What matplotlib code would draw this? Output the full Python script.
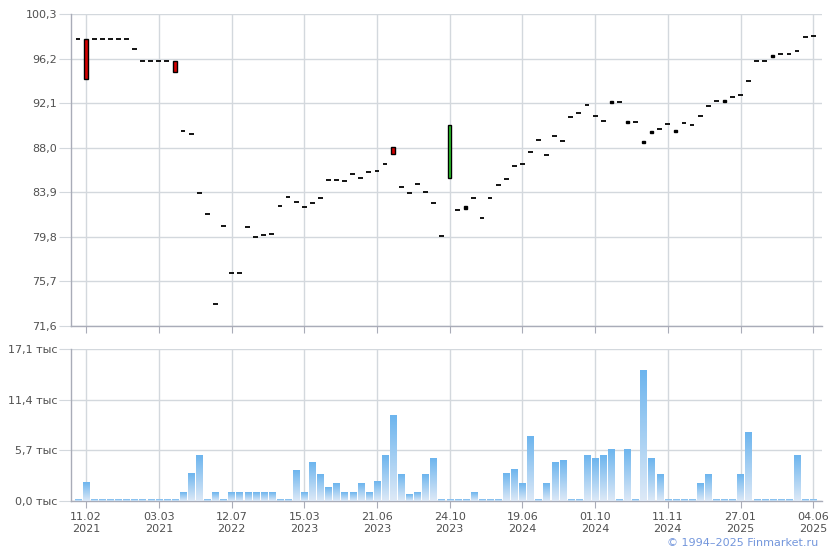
import numpy as np
import matplotlib
matplotlib.use("Agg")
from matplotlib import pyplot as plt
from matplotlib.colors import LinearSegmentedColormap

# price per session (open / close), dashes have open == close
opens = [98.0, 98.0, 98.0, 98.0, 98.0, 98.0, 98.0, 97.05, 96.0, 96.0,
         96.0, 96.0, 96.0, 89.5, 89.3, 83.8, 81.9, 73.6, 80.8, 76.5,
         76.5, 80.7, 79.8, 80.0, 80.1, 82.6, 83.5, 83.0, 82.5, 82.9,
         83.4, 85.0, 85.0, 84.9, 85.6, 85.2, 85.8, 85.9, 86.5, 88.1,
         84.35, 83.8, 84.7, 83.9, 82.9, 79.85, 85.24, 82.24, 82.6, 83.35,
         81.5, 83.35, 84.54, 85.09, 86.29, 86.47, 87.56, 88.68, 87.3, 89.05,
         88.59, 90.8, 91.17, 91.9, 90.89, 90.43, 92.3, 92.17, 90.43, 90.34,
         88.6, 89.5, 89.69, 90.15, 89.6, 90.25, 90.06, 90.89, 91.81, 92.27,
         92.39, 92.63, 92.82, 94.11, 95.95, 95.95, 96.5, 96.59, 96.59, 96.87,
         98.16, 98.25]
closes = list(opens)
closes[1] = 94.35
closes[12] = 95.0
closes[39] = 87.45
closes[46] = 90.06
closes[48] = 82.4
closes[66] = 92.15
closes[68] = 90.3
closes[70] = 88.46
closes[71] = 89.38
closes[74] = 89.47
closes[80] = 92.23
closes[86] = 96.37

# volume, thousands
volumes = [0.15, 2.04, 0.15, 0.15, 0.15, 0.15, 0.15, 0.15, 0.15, 0.15,
           0.15, 0.15, 0.15, 1.0, 3.06, 5.1, 0.15, 1.0, 0.15, 1.0,
           1.0, 1.0, 1.0, 1.0, 1.0, 0.15, 0.15, 3.4, 1.0, 4.3,
           2.94, 1.47, 1.92, 1.0, 1.0, 1.92, 1.0, 2.15, 5.1, 9.63,
           2.94, 0.68, 1.0, 2.94, 4.76, 0.15, 0.15, 0.15, 0.15, 0.9,
           0.15, 0.15, 0.15, 3.06, 3.51, 1.92, 7.25, 0.15, 1.92, 4.3,
           4.53, 0.15, 0.15, 5.1, 4.76, 5.1, 5.78, 0.15, 5.78, 0.15,
           14.72, 4.76, 2.94, 0.15, 0.15, 0.15, 0.15, 1.92, 2.94, 0.15,
           0.15, 0.15, 2.94, 7.7, 0.15, 0.15, 0.15, 0.15, 0.15, 5.1,
           0.15, 0.15]

tick_pos = [1, 10, 19, 28, 37, 46, 55, 64, 73, 82, 91]
tick_labels = ["11.02\n2021", "03.03\n2021", "12.07\n2022", "15.03\n2023",
               "21.06\n2023", "24.10\n2023", "19.06\n2024", "01.10\n2024",
               "11.11\n2024", "27.01\n2025", "04.06\n2025"]
price_ticks = [71.6, 75.7, 79.8, 83.9, 88.0, 92.1, 96.2, 100.3]
vol_ticks = [0.0, 5.7, 11.4, 17.1]

grid_c = "#d3d8dd"
spine_c = "#a9acb8"
label_c = "#505050"

plt.rcParams["font.family"] = ["DejaVu Sans"]
fig = plt.figure(figsize=(8.4, 5.5), dpi=100)
ax = fig.add_axes([0.0845, 0.4073, 0.894, 0.5673])
axv = fig.add_axes([0.0845, 0.0891, 0.894, 0.2764])

xs = np.arange(len(opens))
xlo, xhi = -0.87, 92.08

# --- price panel
for i in xs:
    o, c = opens[i], closes[i]
    if abs(o - c) < 0.05:
        ax.hlines(o, i - 0.3, i + 0.3, colors="black", lw=1.3, zorder=3)
    else:
        col = "#2ecc2e" if c > o else "#d40000"
        if abs(o - c) < 0.3:
            col = "black"
        ax.add_patch(plt.Rectangle((i - 0.2, min(o, c)), 0.4, abs(o - c),
                                   facecolor=col, edgecolor="black", lw=1.0, zorder=3))

ax.set_xlim(xlo, xhi)
ax.set_ylim(71.6, 100.3)
ax.set_yticks(price_ticks)
ax.set_yticklabels([f"{v:.1f}".replace(".", ",") for v in price_ticks])
ax.set_xticks(tick_pos)
ax.set_xticklabels([])

# --- volume panel with gradient bars
cmap = LinearSegmentedColormap.from_list("vol", ["#dde9f7", "#6db5ee"])
grad = np.linspace(0, 1, 100).reshape(-1, 1)
for i in xs:
    h = volumes[i]
    axv.imshow(grad, cmap=cmap, aspect="auto", origin="lower",
               extent=(i - 0.39, i + 0.39, 0, h), zorder=3, interpolation="bilinear")
axv.set_xlim(xlo, xhi)
axv.set_ylim(0, 17.1)
axv.set_yticks(vol_ticks)
axv.set_yticklabels([f"{v:.1f}".replace(".", ",") + " тыс" for v in vol_ticks])
axv.set_xticks(tick_pos)
axv.set_xticklabels(tick_labels)

for a in (ax, axv):
    a.grid(True, color=grid_c, lw=1.0, zorder=0)
    a.set_axisbelow(True)
    for s in ("top", "right"):
        a.spines[s].set_visible(False)
    for s in ("left", "bottom"):
        a.spines[s].set_color(spine_c)
        a.spines[s].set_linewidth(1.0)
    a.tick_params(axis="y", length=9, color=grid_c, labelcolor=label_c, labelsize=8, pad=1)
    a.tick_params(axis="x", length=5, color=spine_c, labelcolor=label_c, labelsize=8, pad=3)

fig.text(0.974, 0.003, "\u00a9 1994\u20132025 Finmarket.ru", color="#7396dc",
         fontsize=8, ha="right", va="bottom")

fig.savefig("out.png", dpi=100, facecolor="white")
